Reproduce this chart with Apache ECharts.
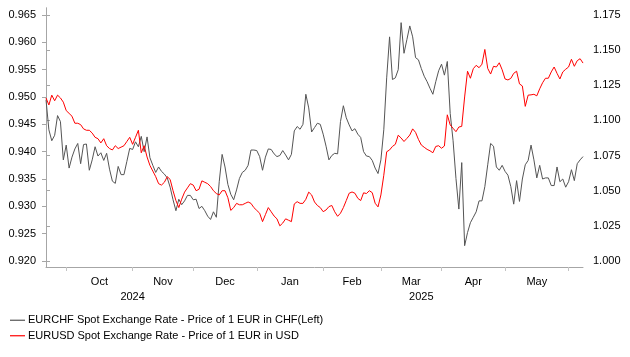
<!DOCTYPE html>
<html>
<head>
<meta charset="utf-8">
<script src="https://cdn.jsdelivr.net/npm/echarts@6/dist/echarts.min.js"></script>
<style>
html,body{margin:0;padding:0;background:#fff;}
#chart{width:630px;height:357px;}
</style>
</head>
<body>
<div id="chart"></div>
<script>
// Trading days (weekdays) from 2024-09-20, one per data point
const startDate = '2024-09-20';
const pointCount = 187;

// EURCHF (left axis)
const eurchf = [
0.9495,0.9440,0.9420,0.9430,0.9466,0.9455,0.9385,0.9412,0.9370,0.9390,
0.9405,0.9415,0.9378,0.9413,0.9414,0.9366,0.9385,0.9409,0.9392,0.9398,
0.9384,0.9397,0.9368,0.9346,0.9342,0.9373,0.9358,0.9358,0.9382,0.9406,
0.9404,0.9418,0.9409,0.9428,0.9400,0.9427,0.9389,0.9375,0.9362,0.9372,
0.9364,0.9359,0.9352,0.9335,0.9312,0.9292,0.9313,0.9303,0.9310,0.9320,
0.9320,0.9312,0.9313,0.9296,0.9300,0.9292,0.9282,0.9276,0.9290,0.9280,
0.9345,0.9395,0.9372,0.9340,0.9322,0.9312,0.9330,0.9351,0.9362,0.9366,
0.9375,0.9403,0.9403,0.9402,0.9391,0.9366,0.9390,0.9405,0.9404,0.9396,
0.9391,0.9393,0.9402,0.9394,0.9385,0.9395,0.9438,0.9446,0.9441,0.9450,
0.9505,0.9480,0.9436,0.9444,0.9452,0.9450,0.9432,0.9410,0.9385,0.9393,
0.9397,0.9396,0.9455,0.9484,0.9462,0.9449,0.9438,0.9442,0.9432,0.9426,
0.9400,0.9392,0.9391,0.9384,0.9370,0.9360,0.9385,0.9440,0.9535,0.9610,
0.9532,0.9535,0.9550,0.9636,0.9580,0.9605,0.9630,0.9610,0.9572,0.9568,
0.9552,0.9538,0.9528,0.9516,0.9505,0.9528,0.9548,0.9560,0.9540,0.9565,
0.9470,0.9420,0.9351,0.9295,0.9380,0.9228,0.9252,0.9270,0.9280,0.9290,
0.9310,0.9310,0.9336,0.9376,0.9415,0.9410,0.9372,0.9366,0.9375,0.9364,
0.9357,0.9336,0.9304,0.9347,0.9309,0.9350,0.9376,0.9384,0.9412,0.9385,
0.9352,0.9375,0.9350,0.9352,0.9352,0.9338,0.9338,0.9372,0.9345,0.9350,
0.9335,0.9345,0.9367,0.9347,0.9378,0.9385,0.9391
];

// EURUSD (right axis)
const eurusd = [
1.1160,1.1110,1.1180,1.1140,1.1180,1.1160,1.1130,1.1070,1.1050,1.1030,
1.0980,1.0980,1.0970,1.0940,1.0930,1.0930,1.0910,1.0880,1.0870,1.0840,
1.0870,1.0820,1.0800,1.0790,1.0820,1.0800,1.0810,1.0820,1.0850,1.0880,
1.0830,1.0880,1.0930,1.0770,1.0820,1.0740,1.0680,1.0640,1.0600,1.0550,
1.0540,1.0560,1.0600,1.0580,1.0500,1.0430,1.0380,1.0440,1.0490,1.0520,
1.0550,1.0540,1.0500,1.0510,1.0570,1.0560,1.0550,1.0530,1.0500,1.0480,
1.0470,1.0500,1.0500,1.0450,1.0360,1.0380,1.0410,1.0400,1.0400,1.0410,
1.0420,1.0410,1.0380,1.0360,1.0340,1.0280,1.0330,1.0380,1.0350,1.0320,
1.0300,1.0250,1.0270,1.0300,1.0290,1.0280,1.0406,1.0422,1.0410,1.0410,
1.0439,1.0490,1.0470,1.0420,1.0395,1.0380,1.0351,1.0363,1.0387,1.0395,
1.0350,1.0318,1.0340,1.0380,1.0430,1.0482,1.0491,1.0482,1.0446,1.0430,
1.0485,1.0480,1.0500,1.0486,1.0411,1.0385,1.0470,1.0610,1.0777,1.0790,
1.0815,1.0830,1.0895,1.0875,1.0850,1.0872,1.0896,1.0940,1.0915,1.0865,
1.0825,1.0809,1.0794,1.0784,1.0770,1.0815,1.0820,1.0802,1.0818,1.1040,
1.0968,1.0944,1.0920,1.0953,1.0958,1.1167,1.1350,1.1300,1.1368,1.1392,
1.1375,1.1400,1.1505,1.1370,1.1330,1.1385,1.1380,1.1410,1.1360,1.1295,
1.1288,1.1299,1.1335,1.1350,1.1260,1.1245,1.1100,1.1180,1.1182,1.1186,
1.1175,1.1225,1.1268,1.1300,1.1300,1.1345,1.1380,1.1335,1.1295,1.1345,
1.1364,1.1380,1.1435,1.1385,1.1425,1.1439,1.1408
];

const leftTicks = [0.920,0.925,0.930,0.935,0.940,0.945,0.950,0.955,0.960,0.965];
const rightTicks = [1.000,1.025,1.050,1.075,1.100,1.125,1.150,1.175];
const monthNames = ['Jan','Feb','Mar','Apr','May','Jun','Jul','Aug','Sep','Oct','Nov','Dec'];
const yearLabels = {30:'2024', 130:'2025'};
const seriesNames = [
  'EURCHF Spot Exchange Rate - Price of 1 EUR in CHF(Left)',
  'EURUSD Spot Exchange Rate - Price of 1 EUR in USD'
];

// build weekday dates
const dates = [];
(function(){
  const d = new Date(startDate + 'T00:00:00Z');
  while (dates.length < pointCount) {
    const wd = d.getUTCDay();
    if (wd !== 0 && wd !== 6) dates.push(new Date(d.getTime()));
    d.setUTCDate(d.getUTCDate() + 1);
  }
})();

// month start indices
const monthStarts = [];
for (let i = 1; i < dates.length; i++) {
  if (dates[i].getUTCMonth() !== dates[i-1].getUTCMonth()) monthStarts.push(i);
}
const monthMids = [];
const midName = {};
for (let k = 0; k < monthStarts.length - 1; k++) {
  const m = (monthStarts[k] + monthStarts[k+1]) / 2;
  monthMids.push(m);
  midName[m] = monthNames[dates[monthStarts[k]].getUTCMonth()];
}

const font = '"Liberation Sans", Arial, sans-serif';
const axisGray = '#a6a6a6';
const grayLine = '#555555';
const redLine = '#ff0000';

const chart = echarts.init(document.getElementById('chart'), null, {renderer:'canvas'});
chart.setOption({
  animation: false,
  backgroundColor: '#fff',
  textStyle: {fontFamily: font},
  grid: {left: 46, right: 47, top: 8, bottom: 90, containLabel: false},
  legend: {
    orient: 'vertical', left: 10, top: 314, padding: 0,
    icon: 'rect',
    itemWidth: 15, itemHeight: 1.2, itemGap: 3,
    textStyle: {fontFamily: font, fontSize: 11, color: '#000', lineHeight: 12.5, padding: [0,0,0,-2]},
    data: seriesNames
  },
  xAxis: [{
    type: 'value', min: 0, max: pointCount - 1,
    axisLine: {show: true, lineStyle: {color: axisGray, width: 1}},
    axisTick: {show: true, length: 4, customValues: monthStarts, lineStyle: {color: '#c4c4c4'}},
    axisLabel: {
      customValues: monthMids, margin: 8, fontSize: 11, color: '#000', fontFamily: font,
      lineHeight: 13,
      formatter: v => midName[v] || ''
    },
    splitLine: {show: false}
  }, {
    type: 'value', min: 0, max: pointCount - 1, position: 'bottom', offset: 15,
    axisLine: {show: false}, axisTick: {show: false},
    axisLabel: {
      customValues: Object.keys(yearLabels).map(Number), margin: 8, fontSize: 11,
      color: '#000', fontFamily: font, lineHeight: 13,
      formatter: v => yearLabels[v] || ''
    },
    splitLine: {show: false}
  }],
  yAxis: [{
    type: 'value', position: 'left',
    min: 0.920 - 6/5466.7, max: 0.965 + 7/5466.7,
    axisLine: {show: true, lineStyle: {color: axisGray}},
    axisTick: {show: true, length: 4, inside: false, customValues: leftTicks, lineStyle: {color: axisGray}},
    axisLabel: {customValues: leftTicks, margin: 10, fontSize: 11, color: '#000', fontFamily: font,
      formatter: v => v.toFixed(3)},
    splitLine: {show: false}
  }, {
    type: 'value', position: 'right',
    min: 1.000 - 6/1405.7, max: 1.175 + 7/1405.7,
    axisLine: {show: true, lineStyle: {color: axisGray}},
    axisTick: {show: true, length: 4, inside: false, customValues: rightTicks, lineStyle: {color: axisGray}},
    axisLabel: {customValues: rightTicks, margin: 10, fontSize: 11, color: '#000', fontFamily: font,
      formatter: v => v.toFixed(3)},
    splitLine: {show: false}
  }],
  series: [{
    name: seriesNames[0], type: 'line', xAxisIndex: 0, yAxisIndex: 0,
    symbol: 'none', showSymbol: false, smooth: false,
    lineStyle: {color: grayLine, width: 1},
    itemStyle: {color: grayLine},
    data: eurchf.map((v, i) => [i, v])
  }, {
    name: seriesNames[1], type: 'line', xAxisIndex: 0, yAxisIndex: 1,
    symbol: 'none', showSymbol: false, smooth: false,
    lineStyle: {color: redLine, width: 1},
    itemStyle: {color: redLine},
    data: eurusd.map((v, i) => [i, v])
  }]
});
</script>
</body>
</html>
